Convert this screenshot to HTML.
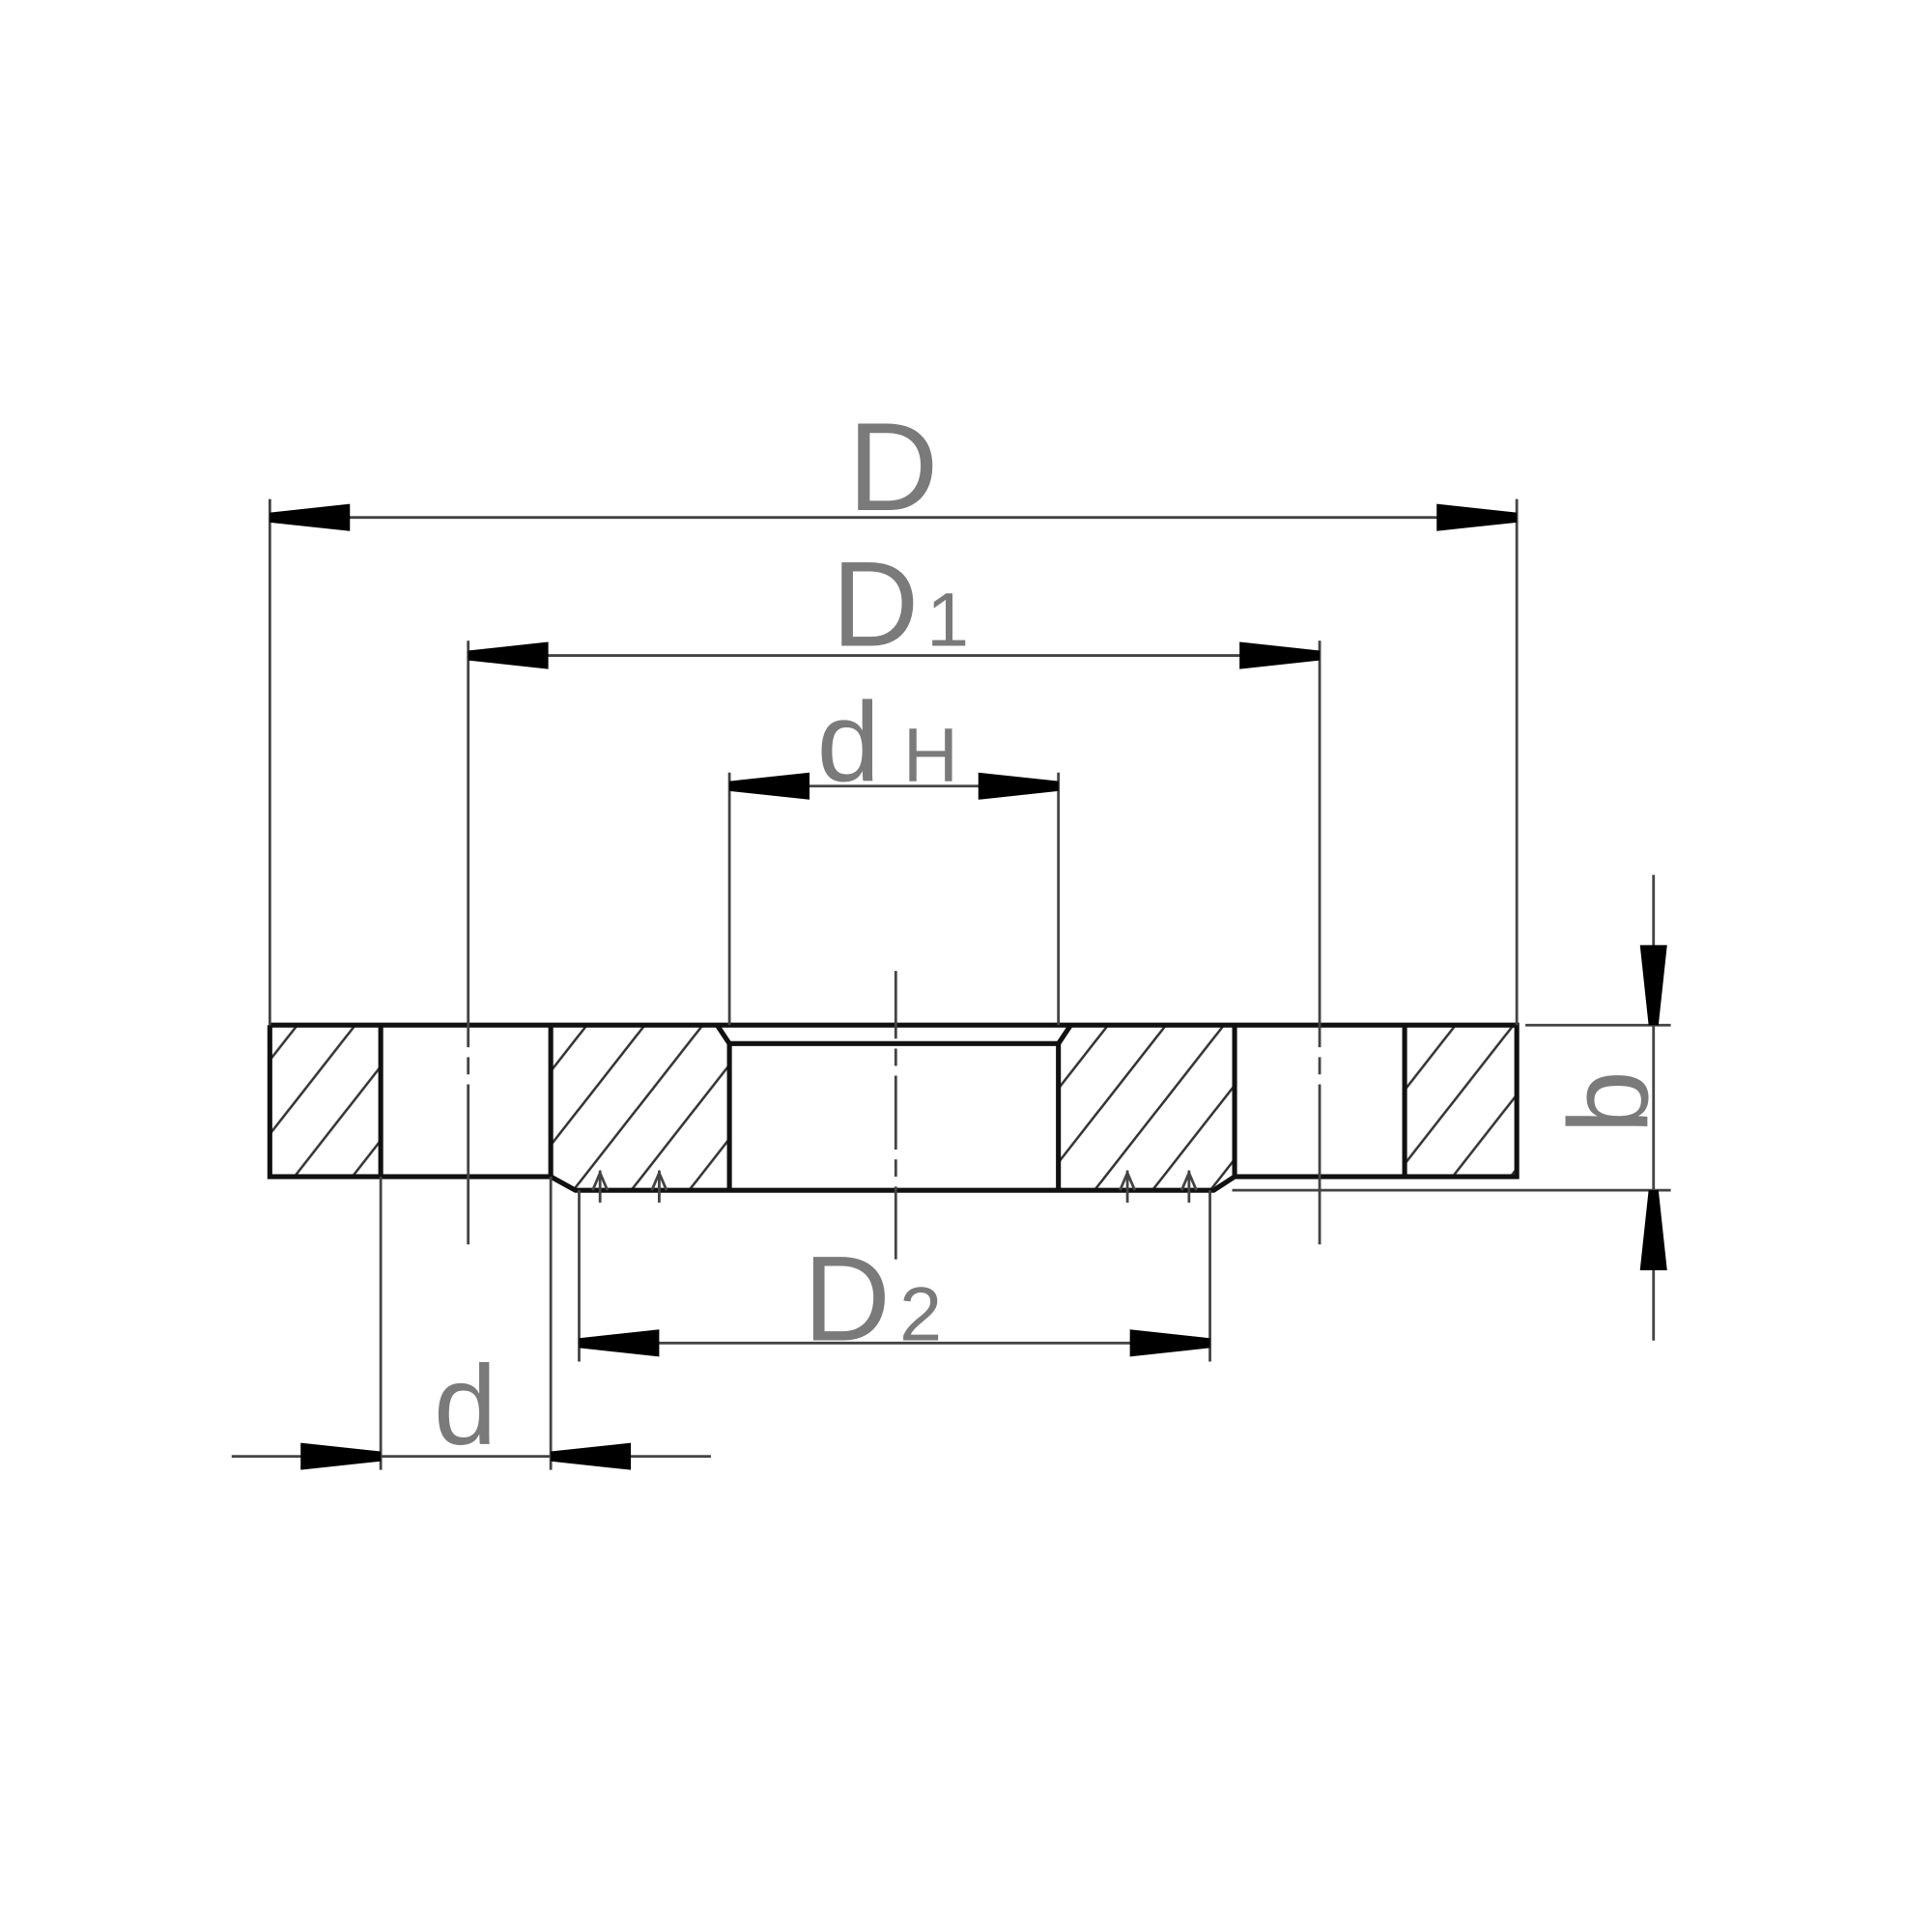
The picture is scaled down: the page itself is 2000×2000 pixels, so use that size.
<!DOCTYPE html>
<html><head><meta charset="utf-8"><style>html,body{margin:0;padding:0;background:#fff}svg{display:block}</style></head>
<body>
<svg width="2000" height="2000" viewBox="0 0 1568 1568" xmlns="http://www.w3.org/2000/svg">
<defs>
<pattern id="h" patternUnits="userSpaceOnUse" width="47" height="60">
<line x1="-8.2" y1="70.5" x2="55.2" y2="-10.5" stroke="#333" stroke-width="2"/>
<line x1="-55.2" y1="70.5" x2="8.2" y2="-10.5" stroke="#333" stroke-width="2"/>
<line x1="38.8" y1="70.5" x2="102.2" y2="-10.5" stroke="#333" stroke-width="2"/>
</pattern>
</defs>
<g fill="url(#h)" stroke="none">
<rect x="219" y="832" width="90" height="123"/>
<polygon points="447,832 582,832 592,847 592,966 467,966 447,955"/>
<polygon points="869,832 1002,832 1002,955 985,966 859,966 859,847"/>
<rect x="1140" y="832" width="91" height="123"/>
</g>
<g fill="none" stroke="#111" stroke-width="4" stroke-linejoin="miter">
<polyline points="219,832 1231,832 1231,955 1002,955 985,966 467,966 447,955 219,955 219,832"/>
<line x1="309" y1="832" x2="309" y2="955"/>
<line x1="447" y1="832" x2="447" y2="955"/>
<line x1="1002" y1="832" x2="1002" y2="955"/>
<line x1="1140" y1="832" x2="1140" y2="955"/>
<polyline points="582,832 592,847 592,966"/>
<polyline points="869,832 859,847 859,966"/>
<line x1="592" y1="847" x2="859" y2="847"/>
</g>
<g stroke="#444" stroke-width="2.2" fill="none">
<line x1="219" y1="405" x2="219" y2="832"/>
<line x1="1231" y1="405" x2="1231" y2="832"/>
<line x1="219" y1="420" x2="1231" y2="420"/>
<line x1="380" y1="532" x2="1071" y2="532"/>
<line x1="592" y1="627" x2="592" y2="832"/>
<line x1="859" y1="627" x2="859" y2="832"/>
<line x1="592" y1="638" x2="859" y2="638"/>
<line x1="470" y1="966" x2="470" y2="1105"/>
<line x1="982" y1="966" x2="982" y2="1105"/>
<line x1="470" y1="1090" x2="982" y2="1090"/>
<line x1="309" y1="955" x2="309" y2="1193"/>
<line x1="447" y1="955" x2="447" y2="1193"/>
<line x1="188" y1="1182" x2="577" y2="1182"/>
<line x1="1342" y1="710" x2="1342" y2="1088"/>
<line x1="1238" y1="832" x2="1356" y2="832"/>
<line x1="1000" y1="966" x2="1356" y2="966"/>
<line x1="380" y1="520" x2="380" y2="1010" stroke-dasharray="330,8,14,8,200"/>
<line x1="1071" y1="520" x2="1071" y2="1010" stroke-dasharray="330,8,14,8,200"/>
<line x1="727" y1="788" x2="727" y2="1022" stroke-dasharray="55,8,14,8,60,8,14,8,200"/>
<line x1="487" y1="950" x2="487" y2="976"/>
<line x1="535" y1="950" x2="535" y2="976"/>
<line x1="915" y1="950" x2="915" y2="976"/>
<line x1="965" y1="950" x2="965" y2="976"/>
<polyline points="481,966 487,952 493,966"/>
<polyline points="529,966 535,952 541,966"/>
<polyline points="909,966 915,952 921,966"/>
<polyline points="959,966 965,952 971,966"/>
</g>
<g fill="#000">
<polygon points="219,416 219,424 284,431 284,409"/>
<polygon points="1231,416 1231,424 1166,431 1166,409"/>
<polygon points="380,528 380,536 445,543 445,521"/>
<polygon points="1071,528 1071,536 1006,543 1006,521"/>
<polygon points="592,634 592,642 657,649 657,627"/>
<polygon points="859,634 859,642 794,649 794,627"/>
<polygon points="470,1086 470,1094 535,1101 535,1079"/>
<polygon points="982,1086 982,1094 917,1101 917,1079"/>
<polygon points="309,1178 309,1186 244,1193 244,1171"/>
<polygon points="447,1178 447,1186 512,1193 512,1171"/>
<polygon points="1338,832 1346,832 1353,767 1331,767"/>
<polygon points="1338,966 1346,966 1353,1031 1331,1031"/>
</g>
<g font-family="'Liberation Sans', sans-serif" fill="#7a7a7a" stroke="none">
<text x="688" y="414" font-size="102">D</text>
<text x="675" y="524" font-size="98">D</text>
<text x="752" y="524" font-size="62">1</text>
<text x="663" y="634" font-size="92">d</text>
<text x="733" y="634" font-size="62">H</text>
<text x="652" y="1088" font-size="98">D</text>
<text x="730" y="1088" font-size="62">2</text>
<text x="352" y="1172" font-size="92">d</text>
<text transform="translate(1337,920) rotate(-90)" font-size="92">b</text>
</g>
</svg>
</body></html>
